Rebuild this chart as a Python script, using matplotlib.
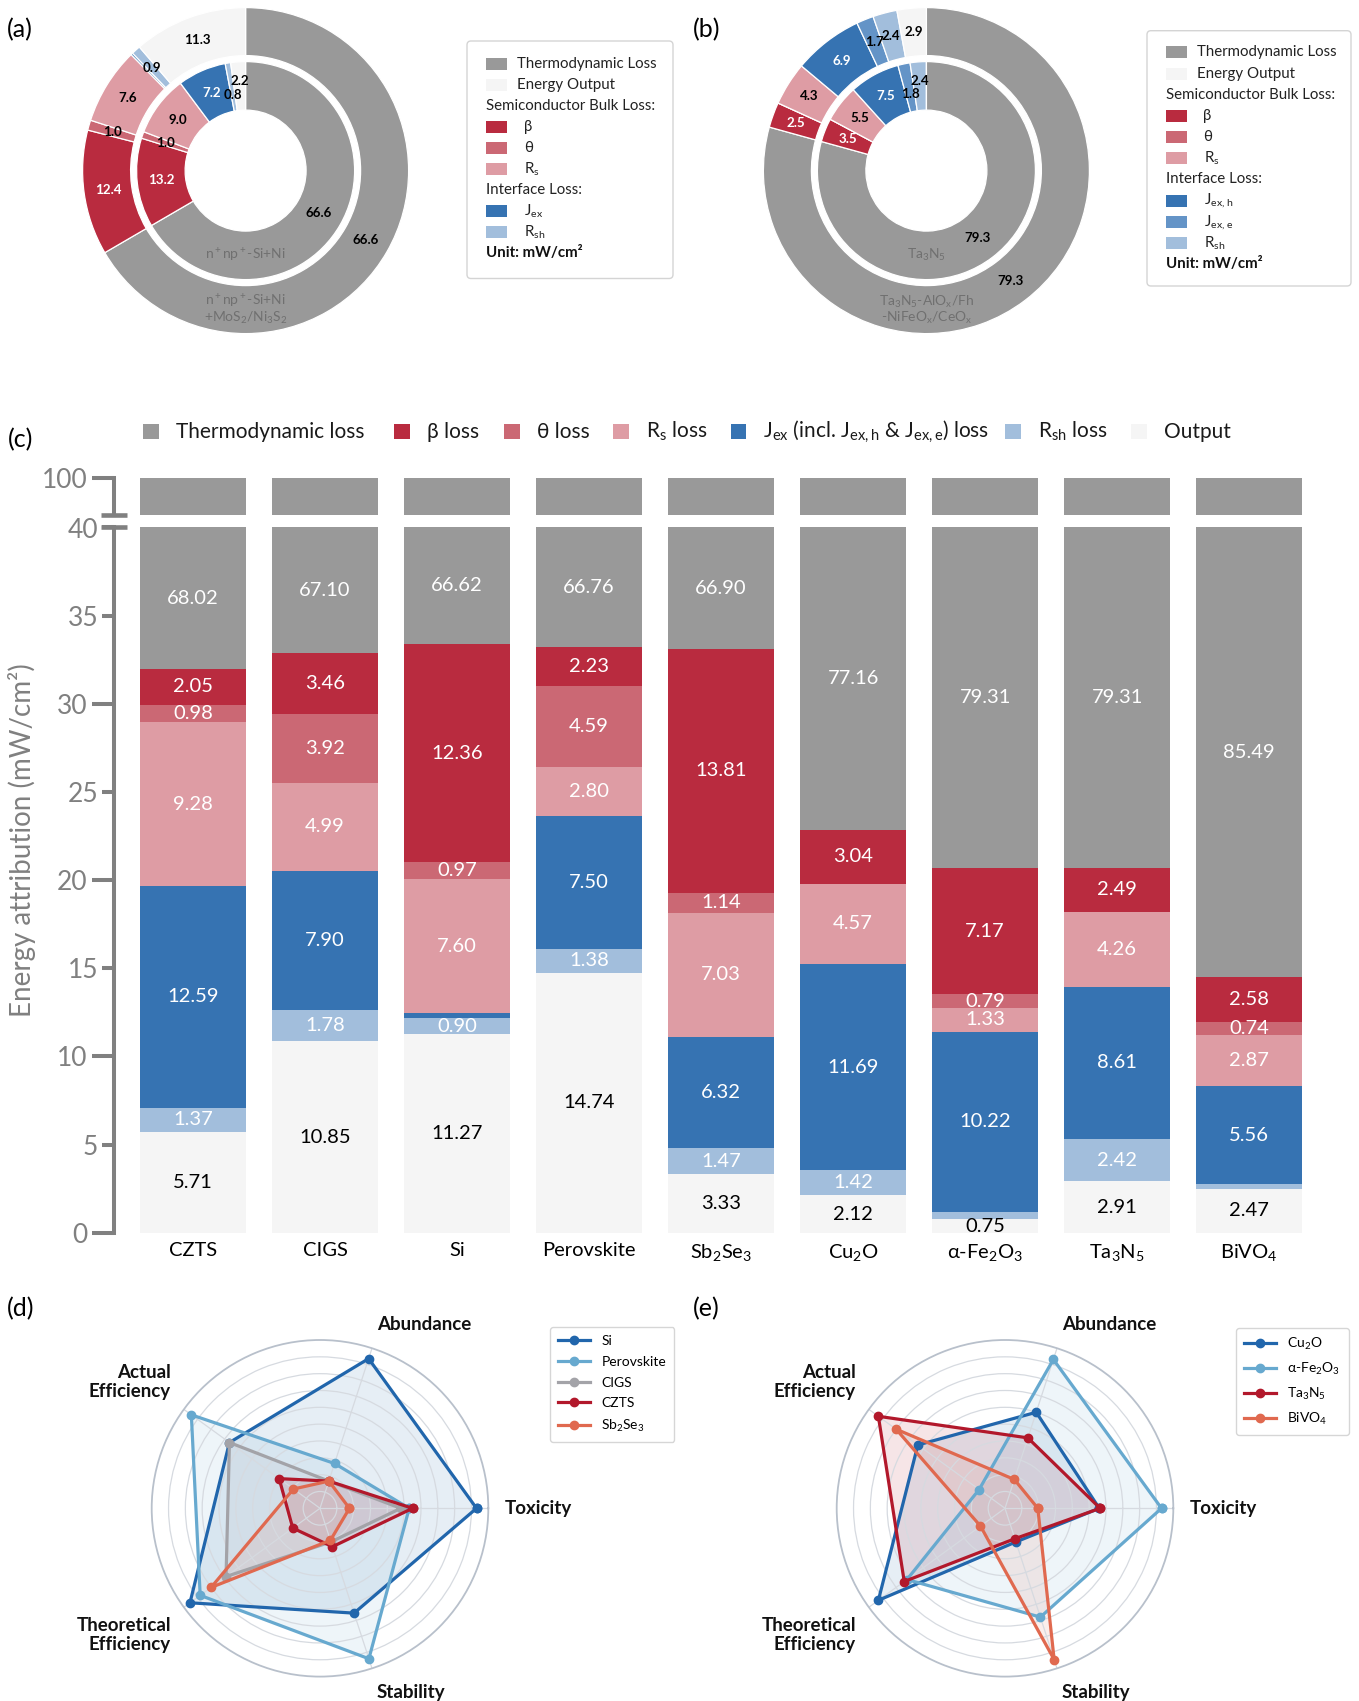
import numpy as np
import matplotlib
matplotlib.use("Agg")
import matplotlib.pyplot as plt
from matplotlib.patches import Rectangle, FancyBboxPatch

plt.rcParams["font.family"] = ["Lato", "DejaVu Sans"]
plt.rcParams["mathtext.fontset"] = "custom"
plt.rcParams["mathtext.rm"] = "Lato"
plt.rcParams["mathtext.it"] = "Lato"
plt.rcParams["mathtext.bf"] = "Lato:bold"

# ---------------------------------------------------------------- data
# (a) donut rings: thermodynamic, beta, theta, Rs, Jex, Rsh, output
a_inner = [66.6, 13.2, 1.0, 9.0, 7.2, 0.8, 2.2]
a_outer = [66.6, 12.4, 1.0, 7.6, 0.2, 0.9, 11.3]
# (b) donut rings: thermodynamic, beta, theta, Rs, Jex,h, Jex,e, Rsh, output
b_inner = [79.3, 3.5, 0.0, 5.5, 7.5, 1.8, 2.4, 0.0]
b_outer = [79.3, 2.5, 0.0, 4.3, 6.9, 1.7, 2.4, 2.9]

# (c) stacked energy attribution, mW/cm^2
materials = ["CZTS", "CIGS", "Si", "Perovskite", "Sb$_2$Se$_3$", "Cu$_2$O",
             "α-Fe$_2$O$_3$", "Ta$_3$N$_5$", "BiVO$_4$"]
output = [5.71, 10.85, 11.27, 14.74, 3.33, 2.12, 0.75, 2.91, 2.47]
rsh = [1.37, 1.78, 0.90, 1.38, 1.47, 1.42, 0.43, 2.42, 0.29]
jex = [12.59, 7.90, 0.28, 7.50, 6.32, 11.69, 10.22, 8.61, 5.56]
rs = [9.28, 4.99, 7.60, 2.80, 7.03, 4.57, 1.33, 4.26, 2.87]
theta = [0.98, 3.92, 0.97, 4.59, 1.14, 0.00, 0.79, 0.00, 0.74]
beta = [2.05, 3.46, 12.36, 2.23, 13.81, 3.04, 7.17, 2.49, 2.58]
thermo = [68.02, 67.10, 66.62, 66.76, 66.90, 77.16, 79.31, 79.31, 85.49]

# (d), (e) radar scores
radar_axes = ["Toxicity", "Abundance", "Actual\nEfficiency",
              "Theoretical\nEfficiency", "Stability"]
d_names = ["Si", "Perovskite", "CIGS", "CZTS", "Sb$_2$Se$_3$"]
d_si = [0.93, 0.935, 0.665, 0.955, 0.655]
d_perovskite = [0.53, 0.28, 0.945, 0.88, 0.94]
d_cigs = [0.48, 0.17, 0.665, 0.69, 0.21]
d_czts = [0.55, 0.17, 0.30, 0.20, 0.24]
d_sb2se3 = [0.175, 0.17, 0.195, 0.80, 0.20]
e_names = ["Cu$_2$O", "α-Fe$_2$O$_3$", "Ta$_3$N$_5$", "BiVO$_4$"]
e_cu2o = [0.56, 0.60, 0.64, 0.93, 0.21]
e_fe2o3 = [0.93, 0.93, 0.19, 0.72, 0.68]
e_ta3n5 = [0.565, 0.44, 0.93, 0.74, 0.19]
e_bivo4 = [0.195, 0.18, 0.80, 0.18, 0.945]

# ---------------------------------------------------------------- style
C_THERMO = "#999999"
C_BETA = "#B92B3F"
C_THETA = "#CB6874"
C_RS = "#DE9CA4"
C_JEX = "#3673B2"
C_JEXE = "#6494C7"
C_RSH = "#A2BEDC"
C_OUT = "#F5F5F5"
GRAY = "#808080"

W, H = 1359, 1701
fig = plt.figure(figsize=(W / 100, H / 100), dpi=100)


def px_axes(x0, y0, x1, y1, **kw):
    return fig.add_axes([x0 / W, 1 - y1 / H, (x1 - x0) / W, (y1 - y0) / H], **kw)


# overlay in pixel coordinates for legends, labels and break marks
ov = px_axes(0, 0, W, H, zorder=10)
ov.set_xlim(0, W)
ov.set_ylim(H, 0)
ov.axis("off")

# ---------------------------------------------------------------- donuts
R_PX = 163.0


def donut(ax, values, colors, radius, width, text_colors, nudges):
    wedges, _ = ax.pie(values, radius=radius, startangle=90, counterclock=False,
                       colors=colors,
                       wedgeprops=dict(width=width, edgecolor="white", linewidth=0.9))
    rmid = radius - width / 2
    for w, v, tc, dn in zip(wedges, values, text_colors, nudges):
        if v < 0.5:
            continue
        ang = np.deg2rad((w.theta1 + w.theta2) / 2)
        r = rmid + dn / R_PX
        ax.text(r * np.cos(ang), r * np.sin(ang), f"{v:.1f}", ha="center",
                va="center", fontsize=9.6, fontweight="bold", color=tc)


def donut_panel(cx, cy, inner, outer, colors, tcolors, inner_nudge,
                inner_name, outer_name):
    ax = px_axes(cx - R_PX, cy - R_PX, cx + R_PX, cy + R_PX)
    donut(ax, outer, colors, 1.0, 48 / R_PX, tcolors, [0] * len(outer))
    donut(ax, inner, colors, 109 / R_PX, 48.5 / R_PX, tcolors, inner_nudge)
    ax.set_xlim(-1, 1)
    ax.set_ylim(-1, 1)
    ax.set_aspect("equal")
    ax.axis("off")
    ri = (109 - 48.5 / 2) / R_PX
    ro = (1.0 - 24 / R_PX)
    ax.text(0, -ri, inner_name, ha="center", va="center", fontsize=10,
            color="#707070")
    ax.text(0, -ro, outer_name, ha="center", va="center", fontsize=10,
            color="#707070", linespacing=1.0)


a_colors = [C_THERMO, C_BETA, C_THETA, C_RS, C_JEX, C_RSH, C_OUT]
a_tc = ["black", "white", "black", "black", "white", "black", "black"]
donut_panel(245.6, 170.6, a_inner, a_outer, a_colors, a_tc,
            [0, 0, 0, 0, 0, -8, 5],
            "n$^+$np$^+$-Si+Ni", "n$^+$np$^+$-Si+Ni\n+MoS$_2$/Ni$_3$S$_2$")

b_colors = [C_THERMO, C_BETA, C_THETA, C_RS, C_JEX, C_JEXE, C_RSH, C_OUT]
b_tc = ["black", "white", "black", "black", "white", "black", "black", "black"]
donut_panel(926.4, 170.6, b_inner, b_outer, b_colors, b_tc,
            [0, 0, 0, 0, 0, -6, 5, 0],
            "Ta$_3$N$_5$", "Ta$_3$N$_5$-AlO$_x$/Fh\n-NiFeO$_x$/CeO$_x$")


def pie_legend(box, y0, step, patch_x, text_x, indent_x, rows):
    x0, yb0, x1, yb1 = box
    ov.add_patch(FancyBboxPatch((x0, yb0), x1 - x0, yb1 - yb0,
                                boxstyle="round,pad=0,rounding_size=4",
                                facecolor="white", edgecolor="#d4d4d4", lw=1.0))
    for i, (kind, color, label) in enumerate(rows):
        y = y0 + i * step
        if kind == "patch" or kind == "ipatch":
            ov.add_patch(Rectangle((patch_x, y - 6), 21, 12, facecolor=color,
                                   edgecolor="none"))
            tx = indent_x if kind == "ipatch" else text_x
            ov.text(tx, y, label, ha="left", va="center", fontsize=10.8,
                    color="#222222")
        elif kind == "header":
            ov.text(patch_x, y, label, ha="left", va="center", fontsize=10.8,
                    color="#222222")
        else:
            ov.text(patch_x, y, label, ha="left", va="center", fontsize=10.8,
                    color="#111111", fontweight="bold")


pie_legend((467, 41, 673, 278.5), 63.8, 21.05, 485.6, 517, 524, [
    ("patch", C_THERMO, "Thermodynamic Loss"),
    ("patch", C_OUT, "Energy Output"),
    ("header", None, "Semiconductor Bulk Loss:"),
    ("ipatch", C_BETA, "β"),
    ("ipatch", C_THETA, "θ"),
    ("ipatch", C_RS, "R$_s$"),
    ("header", None, "Interface Loss:"),
    ("ipatch", C_JEX, "J$_{ex}$"),
    ("ipatch", C_RSH, "R$_{sh}$"),
    ("bold", None, "Unit: mW/cm²"),
])
pie_legend((1147, 30.7, 1351, 286), 52.4, 21.16, 1166, 1197, 1203.5, [
    ("patch", C_THERMO, "Thermodynamic Loss"),
    ("patch", C_OUT, "Energy Output"),
    ("header", None, "Semiconductor Bulk Loss:"),
    ("ipatch", C_BETA, "β"),
    ("ipatch", C_THETA, "θ"),
    ("ipatch", C_RS, "R$_s$"),
    ("header", None, "Interface Loss:"),
    ("ipatch", C_JEX, "J$_{ex,\\,h}$"),
    ("ipatch", C_JEXE, "J$_{ex,\\,e}$"),
    ("ipatch", C_RSH, "R$_{sh}$"),
    ("bold", None, "Unit: mW/cm²"),
])

# ---------------------------------------------------------------- stacked bars
ax_low = px_axes(114, 527.5, 1302, 1232.7)
ax_up = px_axes(114, 477.6, 1302, 515.5)

x = np.arange(len(materials))
layers = [
    (output, C_OUT, "black"),
    (rsh, C_RSH, "white"),
    (jex, C_JEX, "white"),
    (rs, C_RS, "white"),
    (theta, C_THETA, "white"),
    (beta, C_BETA, "white"),
    (thermo, C_THERMO, "white"),
]
LOW_TOP = 40
for axb in (ax_low, ax_up):
    bottom = np.zeros(len(materials))
    for vals, color, tc in layers:
        vals = np.asarray(vals)
        axb.bar(x, vals, width=0.8, bottom=bottom, color=color, linewidth=0)
        if axb is ax_low:
            for xi, b, v in zip(x, bottom, vals):
                if v < 0.5:
                    continue
                ymid = (b + min(b + v, LOW_TOP)) / 2
                axb.text(xi, ymid, f"{v:.2f}", ha="center", va="center",
                         fontsize=14.5, color=tc)
        bottom = bottom + vals

for axb in (ax_low, ax_up):
    axb.set_xlim(-0.598, 8.40)
    for s in ("top", "right", "bottom"):
        axb.spines[s].set_visible(False)
    axb.spines["left"].set_color(GRAY)
    axb.spines["left"].set_linewidth(2.9)
    axb.set_facecolor("none")

ax_low.set_ylim(0, LOW_TOP)
ax_low.set_yticks([0, 10, 20, 30])
ax_low.set_yticklabels(["0", "10", "20", "30"])
ax_low.set_yticks([5, 15, 25, 35, 40], minor=True)
ax_low.set_yticklabels(["5", "15", "25", "35", "40"], minor=True)
ax_low.tick_params(axis="y", which="major", length=16, width=2.9, color=GRAY,
                   labelsize=19, labelcolor=GRAY, pad=3)
ax_low.tick_params(axis="y", which="minor", length=8.5, width=2.9, color=GRAY,
                   labelsize=19, labelcolor=GRAY, pad=3)
ax_low.set_xticks(x)
ax_low.set_xticklabels(materials, fontsize=14.5, color="black")
ax_low.tick_params(axis="x", length=0, pad=7)

ax_up.set_ylim(97.85, 100)
ax_up.set_yticks([100])
ax_up.set_yticklabels(["100"])
ax_up.tick_params(axis="y", which="major", length=16, width=2.9, color=GRAY,
                  labelsize=19, labelcolor=GRAY, pad=3)
ax_up.set_xticks([])

# axis break marks
for yb in (515.5, 527.5):
    ov.plot([101, 127], [yb, yb], color=GRAY, lw=3.3, solid_capstyle="butt")

ov.text(22, 840, "Energy attribution (mW/cm²)", rotation=90, ha="center",
        va="center", fontsize=20, color=GRAY)

bar_legend = [
    (143, 176, C_THERMO, "Thermodynamic loss"),
    (394, 427, C_BETA, "β loss"),
    (504, 537, C_THETA, "θ loss"),
    (613, 645.6, C_RS, "R$_s$ loss"),
    (730.5, 762.6, C_JEX, "J$_{ex}$ (incl. J$_{ex,h}$ & J$_{ex,e}$) loss"),
    (1005, 1038, C_RSH, "R$_{sh}$ loss"),
    (1131, 1164, C_OUT, "Output"),
]
for px_, tx_, col, lab in bar_legend:
    ov.add_patch(Rectangle((px_, 423.5), 15.6, 15, facecolor=col, edgecolor="none"))
    ov.text(tx_, 431.5, lab, ha="left", va="center", fontsize=15, color="#1a1a1a")

# ---------------------------------------------------------------- radars
R_RAD = 168.3
label_align = [("left", "center"), ("left", "bottom"), ("right", "bottom"),
               ("right", "top"), ("left", "top")]


def radar(cx, cy, names, series, colors, legend_xy):
    ax = px_axes(cx - R_RAD, cy - R_RAD, cx + R_RAD, cy + R_RAD, projection="polar")
    n = len(radar_axes)
    ang = np.arange(n) * 2 * np.pi / n
    angc = np.concatenate([ang, ang[:1]])
    handles = []
    for name, vals, col in zip(names, series, colors):
        v = np.concatenate([vals, vals[:1]])
        ax.fill(angc, v, color=col, alpha=0.11, linewidth=0)
        h, = ax.plot(angc, v, color=col, lw=2.3, marker="o", markersize=6,
                     label=name)
        handles.append(h)
    ax.set_ylim(0, 1)
    ax.set_yticks(np.arange(1, 10) / 10)
    ax.set_yticklabels([])
    ax.set_xticks(ang)
    ax.set_xticklabels([])
    ax.grid(color="#d6dae0", lw=0.9)
    ax.spines["polar"].set_color("#b8c0cb")
    ax.spines["polar"].set_linewidth(1.3)
    for a, lab, (ha, va) in zip(ang, radar_axes, label_align):
        ax.text(a, 1.095, lab, ha=ha, va=va, fontsize=13.5, fontweight="bold",
                color="#111111", linespacing=1.15)
    leg = ax.legend(handles=handles, loc="upper left",
                    bbox_to_anchor=(legend_xy[0] / W, 1 - legend_xy[1] / H),
                    bbox_transform=fig.transFigure, fontsize=10, frameon=True,
                    fancybox=True, handlelength=2.3, labelspacing=0.62,
                    borderpad=0.6, handletextpad=0.8, borderaxespad=0)
    leg.get_frame().set_edgecolor("#cccccc")
    leg.get_frame().set_linewidth(1.0)


radar(320, 1508.3, d_names, [d_si, d_perovskite, d_cigs, d_czts, d_sb2se3],
      ["#2166ac", "#67a9cf", "#a3a3a8", "#b2182b", "#e0694f"], (550, 1327))
radar(1005, 1508.3, e_names, [e_cu2o, e_fe2o3, e_ta3n5, e_bivo4],
      ["#2166ac", "#67a9cf", "#b2182b", "#e0694f"], (1236, 1328))

# ---------------------------------------------------------------- panel tags
for tx_, ty_, tag in [(7, 30, "(a)"), (693, 30, "(b)"), (8, 440, "(c)"),
                      (7, 1309, "(d)"), (693, 1309, "(e)")]:
    ov.text(tx_, ty_, tag, ha="left", va="center", fontsize=18, color="black")

fig.savefig("out.png", dpi=100)
